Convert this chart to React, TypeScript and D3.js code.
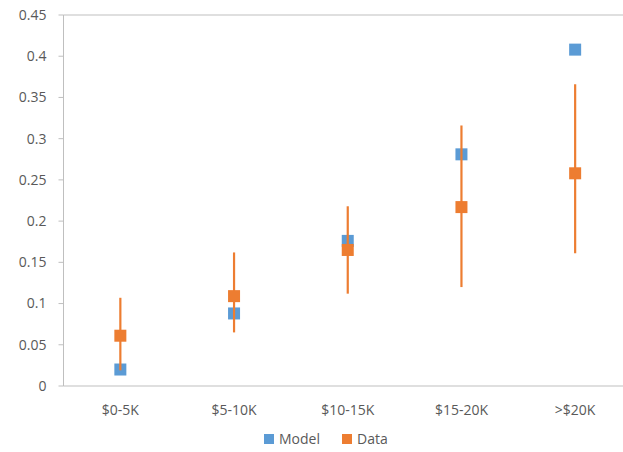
import * as d3 from 'd3';

const categories = ['$0-5K', '$5-10K', '$10-15K', '$15-20K', '>$20K'];
const modelValues = [0.02, 0.088, 0.176, 0.281, 0.408];
const dataValues = [0.061, 0.109, 0.165, 0.217, 0.258];
const dataLow = [0.019, 0.065, 0.112, 0.12, 0.161];
const dataHigh = [0.107, 0.162, 0.218, 0.316, 0.366];
const yTicks = [0, 0.05, 0.1, 0.15, 0.2, 0.25, 0.3, 0.35, 0.4, 0.45];

const BLUE = '#5B9BD5';
const ORANGE = '#ED7D31';
const TEXT = '#595959';

export default function App() {
    const width = 623;
    const height = 452;
    const margin = { left: 63.5, right: -9, top: 15, bottom: 66 };

    const x = d3.scaleBand<string>()
        .domain(categories)
        .range([margin.left, width - margin.right]);
    const y = d3.scaleLinear()
        .domain([0, 0.45])
        .range([height - margin.bottom, margin.top]);
    const cx = (c: string) => (x(c) as number) + x.bandwidth() / 2;
    const sz = 12;
    const font = 'Open Sans, sans-serif';

    return (
        <svg width={width} height={height} style={{ position: 'absolute', left: 0, top: 0 }}>
            <line x1={margin.left} x2={width} y1={y(0.45)} y2={y(0.45)} stroke="#bfbfbf" />
            <line x1={margin.left} x2={width} y1={y(0)} y2={y(0)} stroke="#bfbfbf" />
            <line x1={margin.left} x2={margin.left} y1={y(0)} y2={y(0.45)} stroke="#bfbfbf" />
            {yTicks.map(t => (
                <g key={t}>
                    <line x1={margin.left - 5} x2={margin.left} y1={y(t)} y2={y(t)} stroke="#bfbfbf" />
                    <text x={margin.left - 17} y={y(t)} dy="0.35em" textAnchor="end"
                        fontFamily={font} fontSize={14} fill={TEXT}>{t}</text>
                </g>
            ))}
            {categories.map(c => (
                <text key={c} x={cx(c)} y={y(0) + 29} textAnchor="middle"
                    fontFamily={font} fontSize={14} fill={TEXT}>{c}</text>
            ))}
            {categories.map((c, i) => (
                <rect key={'m' + c} x={cx(c) - sz / 2} y={y(modelValues[i]) - sz / 2}
                    width={sz} height={sz} fill={BLUE} />
            ))}
            {categories.map((c, i) => (
                <line key={'e' + c} x1={cx(c)} x2={cx(c)} y1={y(dataLow[i])} y2={y(dataHigh[i])}
                    stroke={ORANGE} strokeWidth={2.2} />
            ))}
            {categories.map((c, i) => (
                <rect key={'d' + c} x={cx(c) - sz / 2} y={y(dataValues[i]) - sz / 2}
                    width={sz} height={sz} fill={ORANGE} />
            ))}
            <g fontFamily={font} fontSize={14} fill={TEXT}>
                <rect x={264} y={434} width={10} height={10} fill={BLUE} />
                <text x={279} y={444}>Model</text>
                <rect x={342} y={434} width={10} height={10} fill={ORANGE} />
                <text x={357} y={444}>Data</text>
            </g>
        </svg>
    );
}
